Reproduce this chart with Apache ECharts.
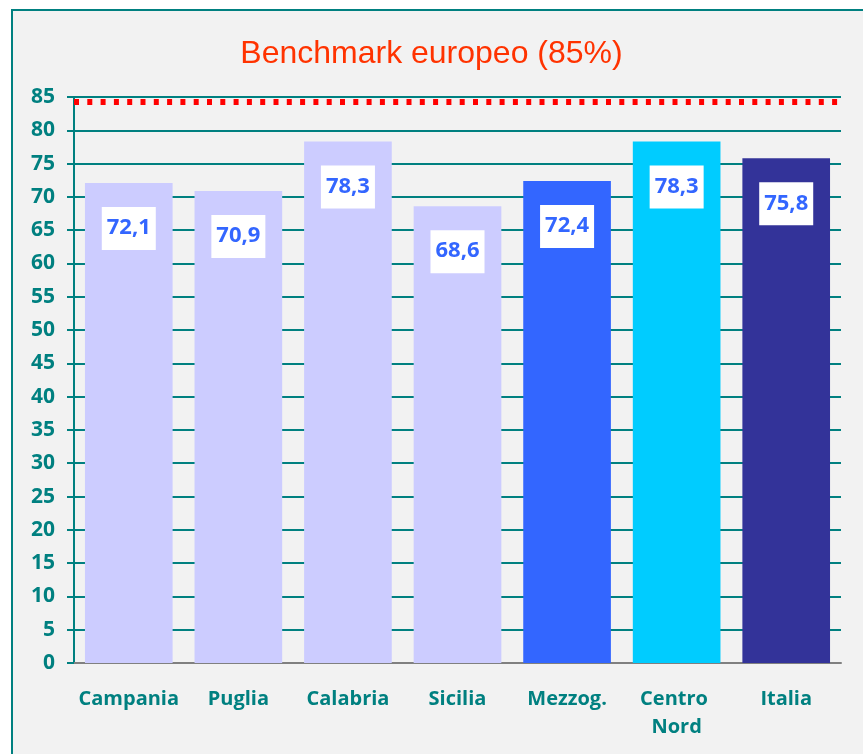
<!DOCTYPE html>
<html>
<head>
<meta charset="utf-8">
<script src="https://cdn.jsdelivr.net/npm/echarts@6/dist/echarts.min.js"></script>
<style>
  html, body { margin: 0; padding: 0; background: #ffffff; }
</style>
</head>
<body>
<div id="main" style="width:863px;height:754px"></div>
<script>
var regions = ['Campania', 'Puglia', 'Calabria', 'Sicilia', 'Mezzog.', 'Centro Nord', 'Italia'];
var values = [72.1, 70.9, 78.3, 68.6, 72.4, 78.3, 75.8];
var barColors = ['#ccccff', '#ccccff', '#ccccff', '#ccccff', '#3366ff', '#00ccff', '#333399'];
var benchmarkLine = 84.3; // drawn just under the 85 gridline
var titleText = 'Benchmark europeo (85%)';

var teal = '#008080';

var myChart = echarts.init(document.getElementById('main'));
var option = {
  animation: false,
  backgroundColor: '#ffffff',
  graphic: [
    {
      type: 'rect',
      z: -10,
      shape: { x: 12, y: 10, width: 870, height: 770 },
      style: { fill: '#f2f2f2', stroke: teal, lineWidth: 2 }
    }
  ],
  title: {
    text: titleText,
    left: 'center',
    top: 33,
    textStyle: {
      color: '#ff3300',
      fontFamily: 'Liberation Sans',
      fontWeight: 'normal',
      fontSize: 32
    }
  },
  grid: { left: 74, right: 22, top: 97, bottom: 91 },
  xAxis: {
    type: 'category',
    data: regions,
    axisLine: { lineStyle: { color: '#808080', width: 2 } },
    axisTick: { length: 6, lineStyle: { color: '#808080', width: 2 } },
    axisLabel: {
      margin: 22,
      color: teal,
      fontFamily: 'Open Sans',
      fontWeight: 'bold',
      fontSize: 20,
      lineHeight: 28,
      width: 104,
      overflow: 'break',
      interval: 0
    }
  },
  yAxis: {
    type: 'value',
    min: 0,
    max: 85,
    interval: 5,
    axisLine: { show: true, lineStyle: { color: teal, width: 2 } },
    axisTick: { show: true, length: 7, lineStyle: { color: teal, width: 2 } },
    axisLabel: {
      margin: 19,
      color: teal,
      fontFamily: 'Open Sans',
      fontWeight: 'bold',
      fontSize: 21
    },
    splitLine: { lineStyle: { color: teal, width: 2 } }
  },
  series: [
    {
      type: 'bar',
      barCategoryGap: '20%',
      data: values.map(function (v, i) {
        return { value: v, itemStyle: { color: barColors[i] } };
      }),
      label: {
        show: true,
        position: 'insideTop',
        distance: 24,
        formatter: function (p) { return String(p.value).replace('.', ','); },
        backgroundColor: '#ffffff',
        padding: [10, 5, 11, 5],
        color: '#3366ff',
        fontFamily: 'Open Sans',
        fontWeight: 'bold',
        fontSize: 22
      },
      markLine: {
        silent: true,
        symbol: 'none',
        label: { show: false },
        lineStyle: { color: '#ff0000', width: 6, type: [5, 8.3], cap: 'butt' },
        data: [{ yAxis: benchmarkLine }]
      }
    }
  ]
};
myChart.setOption(option);
</script>
</body>
</html>
